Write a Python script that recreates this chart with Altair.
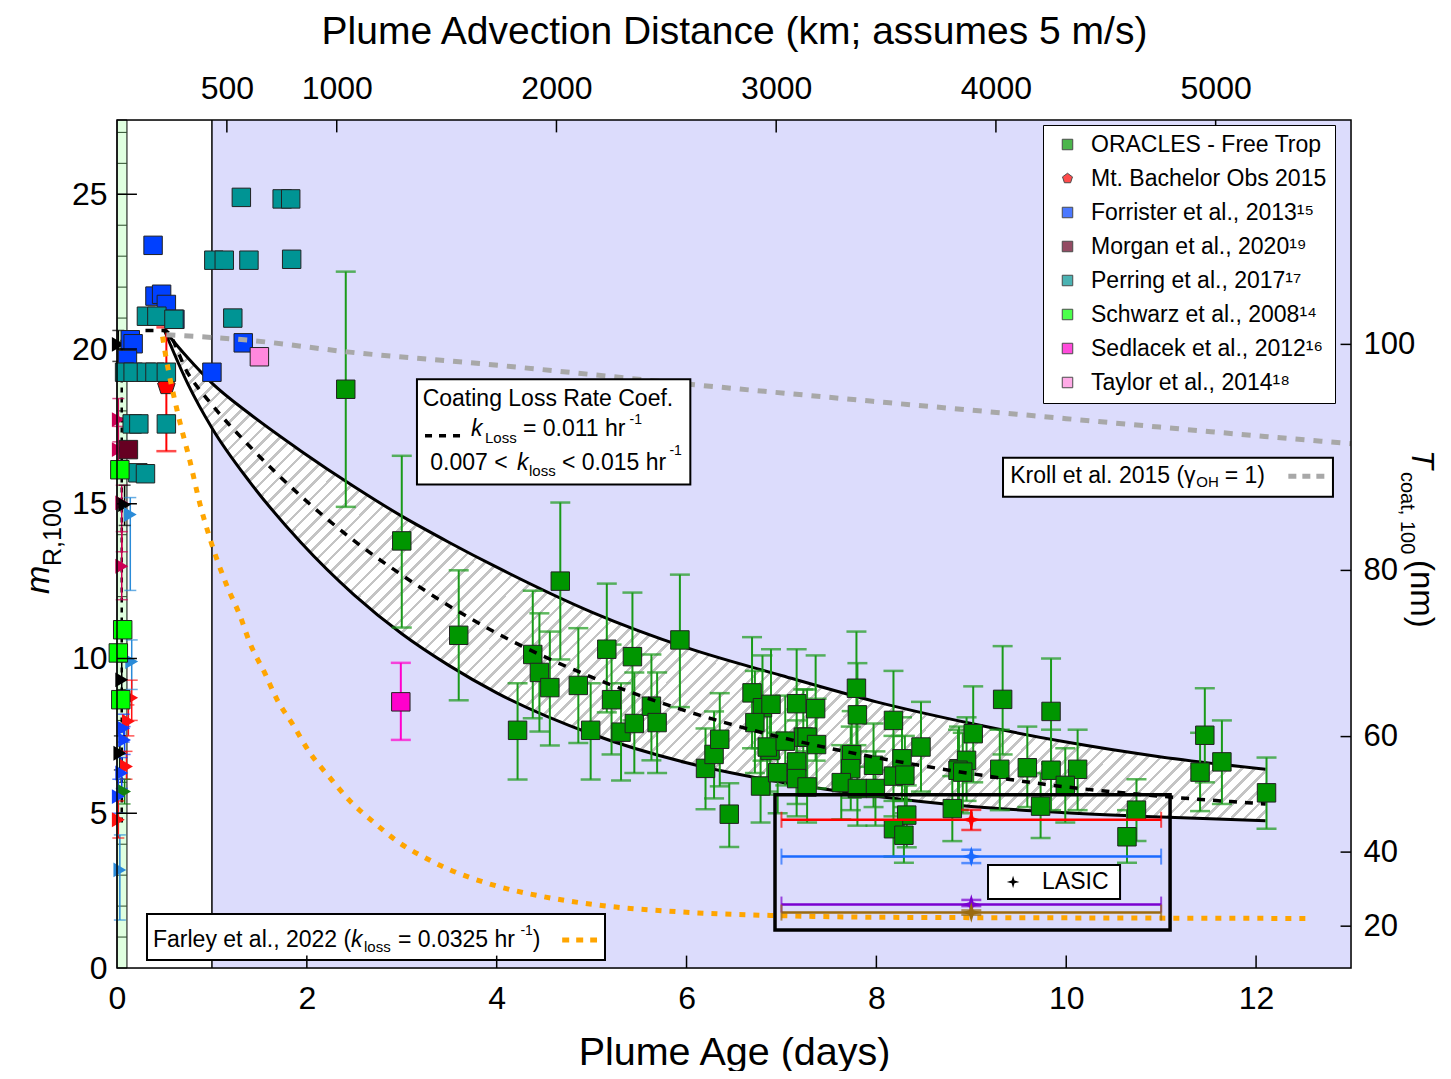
import altair as alt
import pandas as pd

FONT = "Liberation Sans"
KM_PER_DAY = 432.0          # 5 m/s * 86400 s
MR_COEF = 0.775             # mR = 0.775*((1+2T/100)^3-1)  (right-axis conversion)

# ---------------- ORACLES - Free Trop ----------------
oracles_day = [2.41, 3.00, 3.60, 4.22, 4.38, 4.45, 4.56, 4.67, 4.86, 4.99,
               5.16, 5.21, 5.31, 5.43, 5.45, 5.63, 5.69, 5.93, 6.20, 6.29,
               6.35, 6.45, 6.69, 6.80, 6.89, 6.72, 6.78, 6.88, 6.85, 6.96,
               7.16, 7.36, 7.23, 7.27, 7.37, 7.16, 7.16, 7.27, 7.04, 7.79,
               7.80, 7.74, 7.73, 7.63, 7.80, 7.99, 7.97, 8.18, 8.27, 8.18,
               8.30, 8.47, 8.87, 8.80, 8.32, 8.18, 8.29, 9.02, 8.95, 8.86,
               8.91, 9.33, 9.30, 9.59, 9.84, 9.84, 10.12, 9.99, 9.73, 10.74,
               10.64, 11.46, 11.41, 11.64, 12.11]
oracles_mr = [18.7, 13.8, 10.75, 7.68, 10.13, 9.55, 9.06, 12.5, 9.13, 7.68,
              10.3, 8.67, 7.62, 10.06, 7.9, 8.46, 7.93, 10.6, 6.45, 6.9,
              7.39, 4.97, 8.89, 8.41, 8.52, 7.93, 5.88, 7.03, 7.14, 6.31,
              8.54, 8.38, 7.46, 7.46, 7.22, 6.66, 6.12, 5.85, 7.33, 9.04,
              8.18, 6.89, 6.44, 5.99, 5.80, 5.80, 6.55, 8.0, 6.76, 6.2,
              6.23, 7.14, 6.44, 5.15, 4.94, 4.5, 4.29, 7.57, 6.71, 6.39,
              6.33, 8.68, 6.42, 6.47, 8.29, 6.39, 6.42, 5.9, 5.23, 5.1,
              4.24, 7.52, 6.33, 6.66, 5.66]
oracles_lo = [14.9, 11.0, 8.65, 6.09, 8.07, 7.64, 7.19, 9.97, 7.27, 6.09,
              8.26, 6.9, 6.06, 8.0, 6.3, 6.71, 6.3, 8.43, 5.13, 5.48,
              5.87, 3.91, 7.1, 6.7, 6.8, 6.3, 4.7, 5.6, 5.7, 5.0,
              6.8, 6.7, 5.9, 5.9, 5.8, 5.3, 4.9, 4.7, 5.9, 7.2,
              6.5, 5.5, 5.1, 4.8, 4.6, 4.6, 5.2, 6.4, 5.4, 4.9,
              5.0, 5.7, 5.1, 4.1, 3.9, 3.6, 3.4, 6.0, 5.4, 5.1,
              5.0, 6.9, 5.1, 5.2, 6.6, 5.1, 5.1, 4.7, 4.2, 4.1,
              3.4, 6.0, 5.07, 5.3, 4.5]
oracles_hi = [22.5, 16.55, 12.85, 9.2, 12.19, 11.46, 10.87, 15.04, 10.98, 9.2,
              12.42, 10.45, 9.2, 12.13, 9.55, 10.13, 9.55, 12.71, 7.74, 8.29,
              8.88, 5.97, 10.69, 10.1, 10.3, 9.6, 7.1, 8.5, 8.6, 7.6,
              10.3, 10.1, 9.0, 9.0, 8.7, 8.0, 7.3, 7.0, 8.8, 10.87,
              9.85, 8.3, 7.8, 7.2, 7.0, 7.0, 7.9, 9.6, 8.1, 7.5,
              7.5, 8.6, 7.8, 6.2, 5.9, 5.4, 5.2, 9.1, 8.1, 7.7,
              7.6, 10.4, 7.7, 7.8, 10.0, 7.7, 7.7, 7.1, 6.3, 6.1,
              5.1, 9.04, 7.6, 8.0, 6.8]

# ---------------- literature points ----------------
bachelor_day = [0.52]
bachelor_mr = [18.8]
bachelor_lo = [16.7]
bachelor_hi = [20.7]

forrister_day = [0.38, 0.40, 0.47, 0.52, 0.61, 0.14, 0.17, 0.11, 1.0, 1.33]
forrister_mr = [23.35, 21.71, 21.77, 21.44, 20.96, 20.3, 20.17, 19.66, 19.25, 20.2]

perring_day = [1.31, 1.74, 1.83, 1.02, 1.13, 1.39, 1.84, 1.22, 0.31, 0.42, 0.60,
               0.08, 0.17, 0.31, 0.40, 0.52, 0.16, 0.23, 0.52, 0.22, 0.30]
perring_mr = [24.9, 24.85, 24.85, 22.87, 22.87, 22.87, 22.9, 21.0, 21.06, 21.06, 20.96,
              19.25, 19.25, 19.25, 19.25, 19.25, 17.58, 17.58, 17.58, 16.0, 15.97]

schwarz_day = [0.03, 0.06, 0.014, 0.04]
schwarz_mr = [16.1, 10.93, 10.18, 8.67]

morgan_day = [0.12]
morgan_mr = [16.75]

taylor_day = [1.5]
taylor_mr = [19.75]

sedlacek_day = [2.99]
sedlacek_mr = [8.6]
sedlacek_lo = [7.37]
sedlacek_hi = [9.86]

# near-source triangles (no legend entry)
tri_day = [0.014, 0.014, 0.014, 0.05, 0.08, 0.14, 0.05, 0.155, 0.05, 0.155,
           0.12, 0.07, 0.08, 0.03, 0.10, 0.05, 0.08, 0.014, 0.014, 0.03]
tri_mr = [20.15, 17.72, 16.75, 15.03, 14.97, 14.65, 12.98, 9.9, 9.31, 8.73,
          7.97, 7.75, 7.37, 6.94, 6.51, 6.3, 5.7, 5.54, 4.79, 3.17]
tri_lo = [19.6, 17.0, 16.0, 13.45, 14.3, 12.2, 11.9, 9.0, 8.7, 8.0,
          7.5, 7.3, 6.9, 6.4, 6.1, 5.8, 5.3, 5.0, 4.2, 1.55]
tri_hi = [20.6, 18.4, 17.5, 15.6, 15.6, 15.2, 14.1, 10.6, 9.9, 9.3,
          8.5, 8.2, 7.8, 7.5, 7.0, 6.8, 6.1, 6.1, 5.4, 4.3]
tri_color = ["#000000", "#cc0055", "#cc0055", "#cc0055", "#000000", "#2a8bd8", "#cc0055",
             "#2a8bd8", "#000000", "#ff1010", "#ff1010", "#1040ff", "#1040ff", "#000000",
             "#ff1010", "#1040ff", "#108010", "#1040ff", "#ff1010", "#2a8bd8"]

# ---------------- model curves ----------------
curve_day = [0.5, 0.75, 1.0, 1.4, 1.94, 2.5, 3.0, 3.5, 4.0, 5.0, 6.0, 7.0, 8.0, 9.0, 10.0, 11.0, 12.1]
curve_upper = [20.6, 19.7, 18.9, 17.9, 16.7, 15.55, 14.6, 13.75, 12.95, 11.5, 10.35, 9.45, 8.6, 7.9, 7.3, 6.82, 6.42]
curve_lower = [20.6, 18.85, 17.45, 15.7, 13.74, 12.05, 10.8, 9.77, 8.89, 7.56, 6.63, 6.0, 5.55, 5.22, 5.02, 4.88, 4.76]
mid_day = [0.3, 0.5, 0.75, 1.0, 1.4, 1.94, 2.5, 3.0, 3.5, 4.0, 5.0, 6.0, 7.0, 8.0, 9.0, 10.0, 11.0, 12.1]
mid_mr = [20.6, 20.6, 19.2, 18.2, 16.85, 15.24, 13.8, 12.7, 11.7, 10.82, 9.4, 8.3, 7.45, 6.8, 6.28, 5.85, 5.55, 5.3]
kroll_day = [0.52, 1.4, 2.45, 3.82, 6.0, 8.0, 10.0, 12.0, 13.0]
kroll_mr = [20.46, 20.28, 19.9, 19.53, 18.87, 18.3, 17.75, 17.2, 16.94]
farley_day = [0.48, 0.51, 0.646, 0.77, 0.874, 0.98, 1.155, 1.296, 1.4, 1.56, 1.68, 1.86,
              2.03, 2.24, 2.45, 2.7, 2.95, 3.26, 3.51, 3.72, 4.0, 4.5, 5.0, 6.0, 7.0,
              8.0, 10.0, 12.6]
farley_mr = [20.4, 19.84, 17.85, 16.36, 14.99, 13.87, 12.37, 11.38, 10.5, 9.51, 8.71, 7.83,
             6.96, 6.16, 5.41, 4.72, 4.1, 3.54, 3.17, 2.92, 2.65, 2.3, 2.06, 1.8, 1.69,
             1.64, 1.62, 1.6]

# ---------------- LASIC ----------------
lasic_day = [9.0, 9.0, 9.0, 9.0]
lasic_day_lo = [7.0, 7.0, 7.0, 7.0]
lasic_day_hi = [11.0, 11.0, 11.0, 11.0]
lasic_mr = [4.79, 3.6, 2.05, 1.79]
lasic_lo = [4.46, 3.39, 2.0, 1.72]
lasic_hi = [5.11, 3.82, 2.2, 1.86]
lasic_color = ["#ff0000", "#1a6aff", "#7a00d0", "#9a6a10"]

# ---------------- axes ticks ----------------
bottom_ticks = [0, 2, 4, 6, 8, 10, 12]
left_ticks = [0, 5, 10, 15, 20, 25]
top_km = [500, 1000, 2000, 3000, 4000, 5000]
right_T = [20, 40, 60, 80, 100]

legend_names = ["ORACLES - Free Trop", "Mt. Bachelor Obs 2015", "Forrister et al., 2013¹⁵",
                "Morgan et al., 2020¹⁹", "Perring et al., 2017¹⁷", "Schwarz et al., 2008¹⁴",
                "Sedlacek et al., 2012¹⁶", "Taylor et al., 2014¹⁸"]
legend_colors = ["#009600", "#ff0000", "#0040ff", "#660022", "#009494", "#00ff00", "#ff00cc", "#ff88dd"]
PENTAGON = "M0,-1L0.951,-0.309L0.588,0.809L-0.588,0.809L-0.951,-0.309Z"
STAR4 = "M0,-1L0.22,-0.22L1,0L0.22,0.22L0,1L-0.22,0.22L-1,0L-0.22,-0.22Z"
legend_shapes = ["square", PENTAGON, "square", "square", "square", "square", "square", "square"]

# ============ build ============
XS = alt.Scale(domain=[0, 13], nice=False, zero=False)
YS = alt.Scale(domain=[0, 27.4], nice=False, zero=False)


def X(f):
    return alt.X(f"{f}:Q", scale=XS, axis=None)


def Y(f):
    return alt.Y(f"{f}:Q", scale=YS, axis=None)


def mr_of_T(t):
    return MR_COEF * ((1 + 2 * t / 100.0) ** 3 - 1)


common_ax = dict(ticks=False, tickSize=0, domain=False, grid=False, labelFont=FONT,
                 labelColor="black", labelFlush=False, labelOverlap=False,
                 titleFont=FONT, titleColor="black", titleFontWeight="normal")
ax_bottom = alt.Axis(orient="bottom", values=bottom_ticks, format="d", labelFontSize=32,
                     labelPadding=15, title="Plume Age (days)", titleFontSize=39.5,
                     titlePadding=19, **common_ax)
ax_left = alt.Axis(orient="left", values=left_ticks, format="d", labelFontSize=32,
                   labelPadding=10, **common_ax)
ax_top = alt.Axis(orient="top", values=[k / KM_PER_DAY for k in top_km],
                  labelExpr="format(round(datum.value*432),'d')", labelFontSize=32,
                  labelPadding=15, title="Plume Advection Distance (km; assumes 5 m/s)",
                  titleFontSize=39, titlePadding=21, **common_ax)
ax_right = alt.Axis(orient="right", values=[mr_of_T(t) for t in right_T],
                    labelExpr="format(round(50*(pow(datum.value/0.775+1,1/3)-1)),'d')",
                    labelFontSize=31, labelPadding=12, **common_ax)

layers = []

# background regions (carry the axes)
layers.append(alt.Chart(pd.DataFrame({"x": [1.0], "x2": [13.0], "y": [0.0], "y2": [27.4]}))
              .mark_rect(color="#dcdcfc")
              .encode(x=alt.X("x:Q", scale=XS, axis=ax_bottom), x2="x2",
                      y=alt.Y("y:Q", scale=YS, axis=ax_left, title=None), y2="y2"))
layers.append(alt.Chart(pd.DataFrame({"x": [0.0], "x2": [0.105], "y": [0.0], "y2": [27.4]}))
              .mark_rect(color="#e0ffe0", stroke="black", strokeWidth=1)
              .encode(x=alt.X("x:Q", scale=XS, axis=ax_top), x2="x2",
                      y=alt.Y("y:Q", scale=YS, axis=ax_right, title=None), y2="y2"))
# strip gridlines
layers.append(alt.Chart(pd.DataFrame({"y": list(range(1, 28)), "x": 0.0, "x2": 0.105}))
              .mark_rule(color="#2a4a2a", strokeWidth=1)
              .encode(x=X("x"), x2="x2", y=Y("y")))
# x = 1 day divider
layers.append(alt.Chart(pd.DataFrame({"x": [1.0], "y": [0.0], "y2": [27.4]}))
              .mark_rule(color="black", strokeWidth=1.5)
              .encode(x=X("x"), y=Y("y"), y2="y2"))

# hatched band
curve_df = pd.DataFrame({"day": curve_day, "upper": curve_upper, "lower": curve_lower})
N = 125
stops = []
for i in range(N):
    a, b, c = i / N, (i + 0.72) / N, (i + 1) / N
    stops += [alt.GradientStop(color="#ffffff", offset=a), alt.GradientStop(color="#ffffff", offset=b),
              alt.GradientStop(color="#c4c4c4", offset=b), alt.GradientStop(color="#c4c4c4", offset=c)]
hatch = alt.LinearGradient(gradient="linear", stops=stops, x1=0, y1=0, x2=1.25, y2=0.555)
layers.append(alt.Chart(curve_df).mark_area(color=hatch, interpolate="monotone")
              .encode(x=X("day"), y=Y("upper"), y2="lower"))
for col in ["upper", "lower"]:
    layers.append(alt.Chart(curve_df).mark_line(color="black", strokeWidth=3, interpolate="monotone")
                  .encode(x=X("day"), y=Y(col)))

# near-source dashed fit
layers.append(alt.Chart(pd.DataFrame({"x": [0.05], "y": [4.7], "y2": [20.3]}))
              .mark_rule(color="black", strokeWidth=2.5, strokeDash=[5, 5])
              .encode(x=X("x"), y=Y("y"), y2="y2"))

# near-source triangles
tri_df = pd.DataFrame({"day": tri_day, "mr": tri_mr, "lo": tri_lo, "hi": tri_hi, "c": tri_color})
layers.append(alt.Chart(tri_df).mark_rule(strokeWidth=1.5)
              .encode(x=X("day"), y=Y("lo"), y2="hi", color=alt.Color("c:N", scale=None)))
for col in ["lo", "hi"]:
    layers.append(alt.Chart(tri_df).mark_tick(orient="horizontal", size=12, thickness=1.5)
                  .encode(x=X("day"), y=Y(col), color=alt.Color("c:N", scale=None)))
layers.append(alt.Chart(tri_df).mark_point(shape="triangle-right", filled=True, size=220, opacity=1)
              .encode(x=X("day"), y=Y("mr"), color=alt.Color("c:N", scale=None)))

# error bars of plotted sources
err_df = pd.concat([
    pd.DataFrame({"day": oracles_day, "lo": oracles_lo, "hi": oracles_hi, "c": "#1a9a1a"}),
    pd.DataFrame({"day": sedlacek_day, "lo": sedlacek_lo, "hi": sedlacek_hi, "c": "#ff00cc"}),
    pd.DataFrame({"day": bachelor_day, "lo": bachelor_lo, "hi": bachelor_hi, "c": "#ff0000"}),
], ignore_index=True)
layers.append(alt.Chart(err_df).mark_rule(strokeWidth=2)
              .encode(x=X("day"), y=Y("lo"), y2="hi", color=alt.Color("c:N", scale=None)))
for col in ["lo", "hi"]:
    layers.append(alt.Chart(err_df).mark_tick(orient="horizontal", size=20, thickness=2.5)
                  .encode(x=X("day"), y=Y(col), color=alt.Color("c:N", scale=None)))

# legend-carrying points (draw order)
pts = pd.concat([
    pd.DataFrame({"day": bachelor_day, "mr": bachelor_mr, "src": legend_names[1]}),
    pd.DataFrame({"day": forrister_day, "mr": forrister_mr, "src": legend_names[2]}),
    pd.DataFrame({"day": perring_day, "mr": perring_mr, "src": legend_names[4]}),
    pd.DataFrame({"day": schwarz_day, "mr": schwarz_mr, "src": legend_names[5]}),
    pd.DataFrame({"day": morgan_day, "mr": morgan_mr, "src": legend_names[3]}),
    pd.DataFrame({"day": taylor_day, "mr": taylor_mr, "src": legend_names[7]}),
    pd.DataFrame({"day": sedlacek_day, "mr": sedlacek_mr, "src": legend_names[6]}),
    pd.DataFrame({"day": oracles_day, "mr": oracles_mr, "src": legend_names[0]}),
], ignore_index=True)
pts["order"] = range(len(pts))
leg = alt.Legend(title=None, orient="none", legendX=926, legendY=5, fillColor="white",
                 strokeColor="black", padding=8, labelFont=FONT,
                 labelFontSize=23, labelColor="black", symbolSize=110,
                 symbolStrokeColor="black", symbolStrokeWidth=1, rowPadding=10,
                 symbolOffset=5, labelOffset=12, labelLimit=400)
layers.append(alt.Chart(pts).mark_point(filled=True, size=340, opacity=1, stroke="#222222", strokeWidth=1)
              .encode(x=X("day"), y=Y("mr"),
                      color=alt.Color("src:N", scale=alt.Scale(domain=legend_names, range=legend_colors), legend=leg),
                      shape=alt.Shape("src:N", scale=alt.Scale(domain=legend_names, range=legend_shapes), legend=leg),
                      order=alt.Order("order:Q")))

# dotted / dashed model lines on top
layers.append(alt.Chart(pd.DataFrame({"day": mid_day, "mr": mid_mr}))
              .mark_line(color="black", strokeWidth=3.5, strokeDash=[8, 8], interpolate="monotone")
              .encode(x=X("day"), y=Y("mr")))
layers.append(alt.Chart(pd.DataFrame({"day": kroll_day, "mr": kroll_mr}))
              .mark_line(color="#a8a8a8", strokeWidth=5, strokeDash=[9, 9], interpolate="monotone")
              .encode(x=X("day"), y=Y("mr")))
layers.append(alt.Chart(pd.DataFrame({"day": farley_day, "mr": farley_mr}))
              .mark_line(color="#ffa500", strokeWidth=5, strokeDash=[6, 8], interpolate="monotone")
              .encode(x=X("day"), y=Y("mr")))

# LASIC box
layers.append(alt.Chart(pd.DataFrame({"x": [6.932], "x2": [11.094], "y": [1.229], "y2": [5.595]}))
              .mark_rect(fillOpacity=0, stroke="black", strokeWidth=3.5)
              .encode(x=X("x"), x2="x2", y=Y("y"), y2="y2"))
lasic_df = pd.DataFrame({"day": lasic_day, "dlo": lasic_day_lo, "dhi": lasic_day_hi,
                         "mr": lasic_mr, "lo": lasic_lo, "hi": lasic_hi, "c": lasic_color})
layers.append(alt.Chart(lasic_df).mark_rule(strokeWidth=2.5)
              .encode(x=X("dlo"), x2="dhi", y=Y("mr"), color=alt.Color("c:N", scale=None)))
for col in ["dlo", "dhi"]:
    layers.append(alt.Chart(lasic_df).mark_tick(orient="vertical", size=16, thickness=2)
                  .encode(x=X(col), y=Y("mr"), color=alt.Color("c:N", scale=None)))
layers.append(alt.Chart(lasic_df).mark_rule(strokeWidth=2.5)
              .encode(x=X("day"), y=Y("lo"), y2="hi", color=alt.Color("c:N", scale=None)))
for col in ["lo", "hi"]:
    layers.append(alt.Chart(lasic_df).mark_tick(orient="horizontal", size=20, thickness=2.5)
                  .encode(x=X("day"), y=Y(col), color=alt.Color("c:N", scale=None)))
layers.append(alt.Chart(lasic_df).mark_point(shape=STAR4, filled=True, size=420, opacity=1)
              .encode(x=X("day"), y=Y("mr"), color=alt.Color("c:N", scale=None)))

# annotation boxes
boxes = pd.DataFrame({"x": [3.16, 9.334, 0.316, 9.176], "x2": [6.04, 12.81, 5.141, 10.567],
                      "y": [15.62, 15.23, 0.259, 2.232], "y2": [19.02, 16.49, 1.746, 3.331]})
layers.append(alt.Chart(boxes).mark_rect(fill="white", stroke="black", strokeWidth=2)
              .encode(x=X("x"), x2="x2", y=Y("y"), y2="y2"))
# line samples
samples = pd.DataFrame({"x": [3.245, 12.34, 4.69], "x2": [3.645, 12.73, 5.057],
                        "y": [17.2, 15.89, 0.906]})
layers.append(alt.Chart(samples.iloc[[0]]).mark_rule(color="black", strokeWidth=3.5, strokeDash=[7, 7])
              .encode(x=X("x"), x2="x2", y=Y("y")))
layers.append(alt.Chart(samples.iloc[[1]]).mark_rule(color="#a8a8a8", strokeWidth=5, strokeDash=[8, 6])
              .encode(x=X("x"), x2="x2", y=Y("y")))
layers.append(alt.Chart(samples.iloc[[2]]).mark_rule(color="#ffa500", strokeWidth=5, strokeDash=[7, 7])
              .encode(x=X("x"), x2="x2", y=Y("y")))
layers.append(alt.Chart(pd.DataFrame({"x": [9.44], "y": [2.78]}))
              .mark_point(shape=STAR4, filled=True, size=160, color="black", opacity=1)
              .encode(x=X("x"), y=Y("y")))


def texts(rows, size, style="normal"):
    df = pd.DataFrame(rows, columns=["x", "y", "t"])
    return (alt.Chart(df).mark_text(align="left", baseline="middle", font=FONT, fontSize=size,
                                    fontStyle=style, color="black")
            .encode(x=X("x"), y=Y("y"), text="t:N"))


layers.append(texts([(3.22, 18.37, "Coating Loss Rate Coef."), (4.277, 17.4, "= 0.011 hr"),
                     (3.30, 16.33, "0.007 <"), (4.688, 16.33, "< 0.015 hr"),
                     (9.41, 15.91, "Kroll et al. 2015 (γ"), (11.67, 15.91, "= 1)"),
                     (0.379, 0.906, "Farley et al., 2022 ("), (2.96, 0.906, "= 0.0325 hr"),
                     (4.38, 0.906, ")"), (9.745, 2.78, "LASIC")], 23))
layers.append(texts([(3.73, 17.4, "k"), (4.214, 16.33, "k"), (2.465, 0.906, "k")], 23, "italic"))
layers.append(texts([(3.877, 17.14, "Loss"), (4.34, 16.07, "loss"), (2.602, 0.68, "loss"),
                     (11.37, 15.69, "OH")], 15))
layers.append(texts([(5.40, 17.72, "-1"), (5.82, 16.7, "-1"), (4.25, 1.2, "-1")], 14))

# inward ticks
tick_rows = ([{"x": d, "x2": d, "y": 0.0, "y2": 0.4} for d in bottom_ticks[1:]] +
             [{"x": k / KM_PER_DAY, "x2": k / KM_PER_DAY, "y": 27.0, "y2": 27.4} for k in top_km] +
             [{"x": 0.0, "x2": 0.21, "y": m, "y2": m} for m in left_ticks[1:]] +
             [{"x": 12.89, "x2": 13.0, "y": mr_of_T(t), "y2": mr_of_T(t)} for t in right_T])
layers.append(alt.Chart(pd.DataFrame(tick_rows)).mark_rule(color="black", strokeWidth=1.5)
              .encode(x=X("x"), x2="x2", y=Y("y"), y2="y2"))

# frame
layers.append(alt.Chart(pd.DataFrame({"x": [0.0], "x2": [13.0], "y": [0.0], "y2": [27.4]}))
              .mark_rect(fillOpacity=0, stroke="black", strokeWidth=1.5)
              .encode(x=X("x"), x2="x2", y=Y("y"), y2="y2"))


# axis titles with sub/superscripts
def ptext(t, px, py, size, angle, style="normal"):
    return (alt.Chart(pd.DataFrame({"t": [t]}))
            .mark_text(align="left", baseline="middle", font=FONT, fontSize=size, angle=angle,
                       fontStyle=style, color="black")
            .encode(x=alt.value(px), y=alt.value(py), text="t:N"))


layers.append(ptext("m", -78, 474, 34, 270, "italic"))
layers.append(ptext("R,100", -64, 446, 25, 270))
layers.append(ptext("T", 1304, 330, 31, 90, "italic"))
layers.append(ptext("coat, 100", 1290, 352, 20, 90))
layers.append(ptext("(nm)", 1304, 440, 33, 90))

chart = (alt.layer(*layers)
         .resolve_axis(x="independent", y="independent")
         .properties(width=1234, height=848,
                     padding={"left": 109, "top": 112, "right": 92, "bottom": 103},
                     autosize=alt.AutoSizeParams(type="none"), background="white")
         .configure_view(strokeWidth=0)
         .configure_legend(strokeWidth=2)
         .configure(font=FONT))

chart.save("out.html", embed_options={"renderer": "svg", "actions": False})
